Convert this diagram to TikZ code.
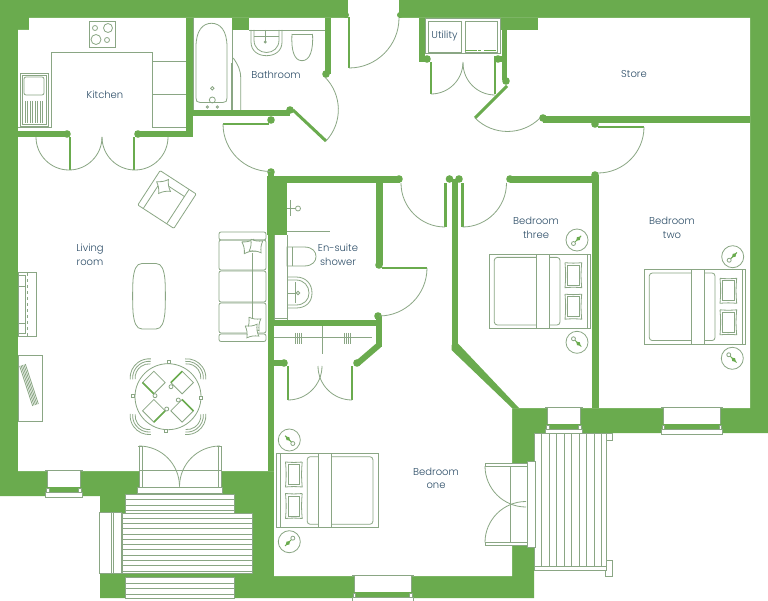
\documentclass[tikz,border=0pt]{standalone}
\usepackage{fontspec}
\setmainfont{Poppins Light}
\definecolor{wallgreen}{HTML}{6AAB4E}
\definecolor{thinline}{HTML}{8AA684}
\definecolor{labelblue}{HTML}{2B4C66}
\tikzset{
    plan/.style={draw=thinline,line width=0.8pt},
    leaf/.style={draw=wallgreen,line width=2.5pt},
    label/.style={text=labelblue,font=\fontsize{10}{13.5}\selectfont,align=center},
    lamp/.pic={
        \draw[plan] (0,0) circle (11);
        \draw[draw=wallgreen,line width=1pt] (-6,0) -- (3,0);
        \fill[wallgreen] (-2,-2) -- (1,0) -- (-2,2) -- (-5,0) -- cycle;
        \draw[plan,fill=white] (5,0) circle (2);
    },
    bed/.pic={
        \draw[plan,fill=white] (-50.7,-37.2) rectangle (50.7,37.2);
        \draw[plan] (47.3,-37.2) -- (47.3,37.2);
        \draw[plan,rounded corners=3] (-45.7,-33.8) rectangle (20,33.8);
        \draw[plan,fill=white] (-4,-37.2) rectangle (9.3,37.2);
        \foreach \py in {-28.5,3}{
            \draw[plan] (25,\py) to[bend right=5] (41.7,\py) to[bend right=5] (41.7,\py+25)
                to[bend right=5] (25,\py+25) to[bend right=5] (25,\py);
            \draw[plan] (27.5,\py+2.5) rectangle (39.2,\py+22.5);
        }
    },
    cushion/.pic={
        \draw[plan,fill=white] (-6,-6) to[bend right=15] (6,-6) to[bend right=15] (6,6)
            to[bend right=15] (-6,6) to[bend right=15] (-6,-6);
    },
    chair/.pic={
        \draw[plan] (12,-8) rectangle (28,8);
        \draw[draw=wallgreen,line width=1.6pt] (12,-8) -- (28,-8);
        \foreach \r in {19,16.5,14}
            \draw[plan] (26.7,0) ++(-50:\r) arc (-50:50:\r);
    }
}
\newcommand{\planwindow}[3]{% left, right, top of the opening
    \fill[white] (#1,#3) rectangle (#2,#3+17);
    \draw[plan] (#1-2,#3+2) -- (#1-2,#3) -- (#2+2,#3) -- (#2+2,#3+2);
    \draw[plan] (#1,#3) -- (#1,#3+17) (#2,#3) -- (#2,#3+17);
    \draw[plan,fill=white] (#1-2,#3+22) rectangle (#2+2,#3+27);
    \draw[plan,fill=white] (#1-1,#3+18) rectangle (#1+1.5,#3+22);
    \draw[plan,fill=white] (#2-1.5,#3+18) rectangle (#2+1,#3+22);
}
\begin{document}
\begin{tikzpicture}[x=1pt,y=-1pt]
    \useasboundingbox (0,0) rectangle (768,601);
    % walls
    \fill[wallgreen] (0,0) -- (348,0) -- (348,18) -- (399,18) -- (399,0) -- (768,0) -- (768,433)
        -- (534,433) -- (534,598) -- (100,598) -- (100,496) -- (0,496) -- cycle;
    \fill[white] (29,18) -- (750,18) -- (750,408) -- (512,408) -- (512,576) -- (274,576)
        -- (274,471) -- (18,471) -- (18,30) -- (29,30) -- cycle;
    \fill[white] (348,0) rectangle (399,18);
    \foreach \xa/\ya/\xb/\yb in {18/131/67/137, 135/131/193/137, 186/18/193/137, 193/110/290/116,
        232/18/249/30, 325/18/331/74, 419/18/425/62, 500/18/538/30, 502/18/507/80, 425/56/430/62, 494/56/502/62,
        268/172/274/471, 268/176/400/183, 267/176/287/235, 268/320/382/326, 376/183/383/265,
        376/316/382/347, 274/360/285/366, 451.5/179/457.5/345, 510/176/595/183,
        592/175/598.5/408, 543/116/750/123}
        \fill[wallgreen] (\xa,\ya) rectangle (\xb,\yb);
    \fill[wallgreen] (451.5,345) -- (457.5,343) -- (519,408) -- (512,408) -- (451.5,350) -- cycle;
    \draw[draw=wallgreen,line width=6pt] (379,345) -- (358,363);
    \foreach \cx/\cy in {67/134, 138/134, 290/110, 271/120, 326/74, 271/172, 399/179, 379/265, 378/316,
        357/363, 284/363, 449.5/179, 459/179, 510/179, 595/175, 595/124, 543/118, 506/81, 427/59, 498/59}
        \fill[wallgreen] (\cx,\cy) circle (3.8);
    \foreach \cx/\cy in {346/15, 400/15}
        \fill[wallgreen] (\cx,\cy) circle (3);
    % doors
    \foreach \xa/\ya/\xb/\yb in {70/137/70/170, 134/137/134/170, 223/124/269/124, 349/17/349/68,
        431/62/431/94, 495/62/495/94, 382/268/427/268, 288/366/288/400, 352/366/352/400,
        445.5/183/445.5/227, 462.5/183/462.5/227, 598/127/644/127}
        \draw[leaf] (\xa,\yb) -- (\xb,\ya);
    \draw[draw=wallgreen,line width=3pt] (293,110) -- (326,141);
    \draw[draw=wallgreen,line width=3pt] (507,86) -- (475,118);
    \draw[plan] (36,137) arc (180:0:33);
    \draw[plan] (102,137) arc (180:0:33);
    \draw[plan] (223,124) arc (180:90:47.5);
    \draw[plan] (349,68) arc (90:0:50);
    \draw[plan] (326,141) arc (43:-45:46);
    \draw[plan] (431,94) arc (90:0:32);
    \draw[plan] (495,95) arc (90:180:32);
    \draw[plan] (475,118) arc (135:45:46);
    \draw[plan] (644,127) arc (0:90:46);
    \draw[plan] (427,268) arc (0:90:48);
    \draw[plan] (288,400) arc (90:0:34);
    \draw[plan] (352,400) arc (90:180:34);
    \draw[plan] (401,183) arc (180:90:44);
    \draw[plan] (462.5,227) arc (90:0:44);
    % kitchen
    \draw[plan] (89,21) rectangle (115,47);
    \foreach \cx/\cy/\cr in {95/28/2.5, 108/28/4.5, 96/39.5/5, 107/40/2.5}
        \draw[plan] (\cx,\cy) circle (\cr);
    \draw[plan] (18,127) -- (51.7,127) -- (51.7,52) -- (152.7,52) -- (152.7,127) -- (186,127);
    \draw[plan] (153,61) -- (186,61) (153,94) -- (186,94);
    \draw[plan] (20,73) rectangle (48,126);
    \draw[plan] (22,75) rectangle (46,124);
    \draw[plan,rounded corners=2] (24,77) rectangle (44,95);
    \foreach \sx in {25,27.5,...,43}
        \draw[plan] (\sx,101) -- (\sx,123);
    % bathroom
    \draw[plan] (193,18) -- (193,110) (232,30) -- (232,110);
    \draw[plan] (196,47) .. controls (196,30) and (203,23.3) .. (211.5,23.3)
        .. controls (220,23.3) and (227,30) .. (227,47) -- (227,98) .. controls (227,101) and (226,102.5) .. (223,102.5)
        -- (200,102.5) .. controls (197,102.5) and (196,101) .. (196,98) -- cycle;
    \draw[plan] (212.3,88.3) circle (1.7) (212.3,100) circle (3);
    \draw[plan] (207.3,107) circle (1.2) (217.3,107) circle (1.2);
    \draw[plan] (231,63) -- (231,110);
    \draw[plan] (233.3,58) .. controls (238,65) and (240.7,70) .. (240.7,78) -- (240.7,110);
    \draw[plan] (249,30) -- (325,30);
    \draw[plan] (251,30) -- (251,42) .. controls (251,51) and (258,55.7) .. (266.5,55.7)
        .. controls (275,55.7) and (282,51) .. (282,42) -- (282,30);
    \draw[plan] (254,30) -- (254,40) .. controls (254,48) and (260,52.5) .. (266.5,52.5)
        .. controls (273,52.5) and (279,48) .. (279,40) -- (279,30);
    \draw[plan] (254,36.7) -- (279,36.7);
    \draw[draw=thinline,line width=1.2pt] (265.3,30) -- (265.3,43);
    \fill[thinline] (265.3,42) circle (1.6);
    \draw[plan] (293,30) -- (311,30) (292,34) -- (312.5,34);
    \draw[plan] (292,34) .. controls (291,50) and (294,60.7) .. (302,60.7)
        .. controls (310,60.7) and (313.5,50) .. (312.5,34);
    % utility
    \draw[plan] (425.5,18) rectangle (500,53);
    \draw[plan] (428,21) rectangle (461,52);
    \draw[plan] (465,21) rectangle (497,52);
    \draw[draw=wallgreen,line width=1.5pt,dash pattern=on 12pt off 1pt on 3pt off 3pt] (465,50.5) -- (497,50.5);
    % living room
    \begin{scope}[shift={(167,199.5)},rotate=-33]
        \draw[plan,fill=white,rounded corners=1] (-21.5,-20.5) rectangle (21.5,20.5);
        \draw[plan] (-15,-12) -- (-15,20.5) (-15,-12) -- (13,-12) (13,-20.5) -- (13,20.5);
        \pic[rotate=10] at (-10,-9) {cushion};
    \end{scope}
    \draw[plan,rounded corners=2] (219,232) rectangle (266,240);
    \draw[plan,rounded corners=2] (219,240) rectangle (266,270);
    \draw[plan,rounded corners=2] (219,271) rectangle (266,302);
    \draw[plan,rounded corners=2] (219,303) rectangle (266,333);
    \draw[plan,rounded corners=2] (219,334) rectangle (266,341.5);
    \draw[plan] (252,253) -- (252,322);
    \pic[rotate=12] at (249,246.5) {cushion};
    \pic[rotate=-8] at (256,246) {cushion};
    \pic[rotate=-8] at (254,324) {cushion};
    \pic[rotate=8] at (252,331) {cushion};
    \draw[plan] (142,263.5) -- (156,263.5) .. controls (162,263.5) and (164,270) .. (165,280)
        .. controls (165.5,290) and (165.5,302) .. (165,312)
        .. controls (164,322) and (162,329) .. (156,329) -- (142,329)
        .. controls (136,329) and (134,322) .. (133,312)
        .. controls (132.5,302) and (132.5,290) .. (133,280)
        .. controls (134,270) and (136,263.5) .. (142,263.5) -- cycle;
    \draw[plan] (18,272.7) rectangle (36,336.7);
    \draw[plan] (18,275.5) rectangle (25,333.5);
    \draw[plan] (18,286) -- (25,286) (18,323) -- (25,323);
    \draw[plan,dashed] (27.5,273) -- (27.5,336);
    \draw[plan] (18,355.7) rectangle (42,421);
    \begin{scope}[shift={(29,385)},rotate=-72]
        \foreach \ly in {-3,-1.5,0,1.5,3}
            \draw[plan] (-21,\ly) -- (21,\ly);
    \end{scope}
    % dining table
    \foreach \ang in {45,135,225,315}
        \pic[rotate=\ang] at (168,396.7) {chair};
    \draw[plan] (168,396.7) circle (33);
    \foreach \cx/\cy in {155/395.7, 171/386.7, 166.7/409, 178.3/400}
        \draw[plan,fill=white] (\cx,\cy) circle (2);
    \foreach \cx/\cy in {169/362, 133.3/395.7, 201/397.7, 165.7/431}
        \draw[plan,fill=white] (\cx-1.5,\cy-1.5) rectangle (\cx+1.5,\cy+1.5);
    % windows
    \planwindow{47.5}{80}{470}
    \planwindow{354}{411}{575}
    \planwindow{547.5}{580}{407}
    \planwindow{663}{720.5}{407}
    % living room balcony doors
    \fill[white] (139,470) rectangle (221,487);
    \draw[plan,fill=white] (137.5,487) rectangle (222,493.5);
    \draw[plan] (139,446) -- (139,487) (142,446) -- (142,487) (221,446) -- (221,487) (218,446) -- (218,487);
    \draw[plan] (138,446) -- (143,446) (217,446) -- (222,446);
    \draw[plan] (139,470) -- (221,470);
    \draw[plan] (139,446) arc (-90:0:40.5);
    \draw[plan] (220,446) arc (-90:-180:40.5);
    % balcony one
    \fill[white] (125,494) rectangle (234,513);
    \fill[white] (122,513) rectangle (252,573);
    \fill[white] (125,577) rectangle (234,598);
    \draw[plan] (125,494) rectangle (234,513);
    \draw[plan] (122,513) rectangle (252,573);
    \draw[plan] (125,577) rectangle (234,598);
    \foreach \ly in {499.5,505,510}
        \draw[plan] (125,\ly) -- (234,\ly);
    \foreach \ly in {518,523.3,...,572}
        \draw[plan] (122,\ly) -- (252,\ly);
    \foreach \ly in {583,588.5,594}
        \draw[plan] (125,\ly) -- (234,\ly);
    \draw[plan,fill=white] (99,512) rectangle (121,573);
    \draw[plan] (111,512) -- (111,573) (113.5,512) -- (113.5,573);
    % balcony two
    \fill[white] (534,433) rectangle (606,570);
    \draw[plan] (534,433) rectangle (606,570);
    \draw[plan] (534,566.7) -- (606,566.7);
    \foreach \sx in {541.5,549,...,605}
        \draw[plan] (\sx,434) -- (\sx,566.7);
    \draw[plan] (606,433) rectangle (612.6,440.7);
    \draw[plan] (606,560) -- (612.6,560) -- (612.6,576.7) -- (605,576.7) -- (605,570);
    % bedroom one french doors
    \fill[white] (512,463) rectangle (534,545);
    \draw[plan,fill=white] (527,461) rectangle (535,547);
    \draw[plan,fill=white] (485,463) rectangle (527,466);
    \draw[plan,fill=white] (485,542.5) rectangle (527,545.5);
    \draw[plan] (510,466) -- (510,542.5);
    \draw[plan] (485,466) arc (180:90:41);
    \draw[plan] (485,542.5) arc (180:270:41);
    % en-suite shower
    \fill[white] (274,235) rectangle (287,320);
    \draw[plan] (274,235) -- (274,320) (287,235) -- (287,320) (274,318) -- (287,318);
    \draw[plan] (287,231.5) -- (330,231.5);
    \draw[plan] (290,200) -- (290,216) (287,208) -- (296,208);
    \draw[plan] (298,208.5) circle (2.5);
    \draw[plan] (287,247) -- (304,247) .. controls (313,247) and (316,252) .. (316,256.5)
        .. controls (316,261) and (313,266) .. (304,266) -- (287,266) -- cycle;
    \draw[plan] (292,247) -- (292,266);
    \draw[plan] (287,277) -- (296,277) .. controls (306,277) and (312,284) .. (312,293)
        .. controls (312,302) and (306,308) .. (296,308) -- (287,308);
    \draw[plan] (287,280) -- (296,280) .. controls (304,280) and (309,286) .. (309,293)
        .. controls (309,300) and (304,305) .. (296,305) -- (287,305);
    \draw[plan] (295,282) -- (295,303) (288,293) -- (296,293);
    \draw[plan] (298,293) circle (1.8);
    % wardrobe
    \draw[plan,line width=1pt] (274,338) -- (372,338);
    \draw[plan,line width=1pt] (322.5,326) -- (322.5,354);
    \foreach \sx in {295,297,...,302}
        \draw[plan] (\sx,333) -- (\sx,344);
    \foreach \sx in {344,346,...,351}
        \draw[plan] (\sx,333) -- (\sx,344);
    % beds
    \pic[xscale=-1] at (327.2,490.5) {bed};
    \pic at (540,291.2) {bed};
    \pic at (695,306.8) {bed};
    \pic[rotate=-45] at (289.3,440) {lamp};
    \pic[rotate=45] at (289.3,541.7) {lamp};
    \pic[rotate=225] at (577,240) {lamp};
    \pic[rotate=135] at (577,342.3) {lamp};
    \pic[rotate=225] at (732.7,256.7) {lamp};
    \pic[rotate=135] at (732.3,358.3) {lamp};
    % labels
    \node[label] (kitchen) at (105,95) {Kitchen};
    \node[label] (bathroom) at (276,74.5) {Bathroom};
    \node[label] (utility) at (444.5,36.5) {Utility};
    \node[label] (store) at (634,74.5) {Store};
    \node[label] (living) at (90,255) {Living\\room};
    \node[label] (ensuite) at (338,255) {En-suite\\shower};
    \node[label] (bedthree) at (536,228) {Bedroom\\three};
    \node[label] (bedtwo) at (672,228) {Bedroom\\two};
    \node[label] (bedone) at (436,478.5) {Bedroom\\one};
\end{tikzpicture}
\end{document}
